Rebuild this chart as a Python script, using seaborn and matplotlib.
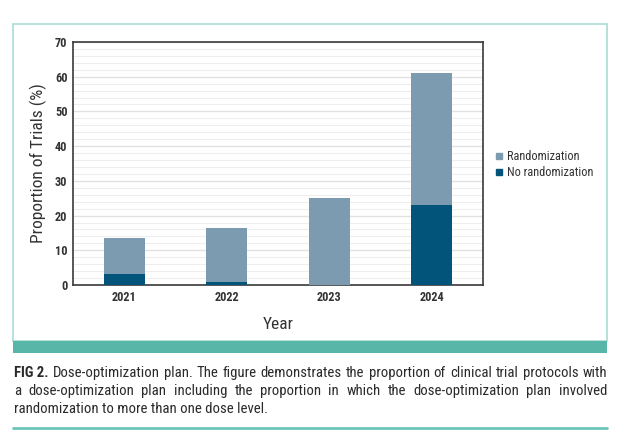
import numpy as np
import pandas as pd
import matplotlib
matplotlib.use("Agg")
import matplotlib.pyplot as plt
import seaborn as sns
from matplotlib import font_manager
from matplotlib.patches import Rectangle
from matplotlib.lines import Line2D

# données
annees = ["2021", "2022", "2023", "2024"]
total = [13.4, 16.3, 25.0, 61.1]
sans_random = [3.2, 0.9, 0.0, 23.0]
series = ["Randomization", "No randomization"]

col_clair = "#7c9bb0"
col_fonce = "#02547a"

# police étroite si dispo
noms = {f.name for f in font_manager.fontManager.ttflist}
police = "DejaVu Sans"
for p in ["Roboto Condensed", "Liberation Sans Narrow", "Roboto"]:
    if p in noms:
        police = p
        break

sns.set_theme(style="white")
plt.rcParams["font.family"] = [police, "DejaVu Sans"]

W, H = 628, 438
fig = plt.figure(figsize=(W / 100, H / 100), dpi=100)

# cadre, bande et ligne du bas
fig.patches.append(Rectangle((13 / W, 1 - 341 / H), 594 / W, 317 / H, transform=fig.transFigure,
                             fill=False, edgecolor="#a9ddd5", linewidth=1.2))
fig.patches.append(Rectangle((13 / W, 1 - 353 / H), 594 / W, 12 / H, transform=fig.transFigure,
                             facecolor="#58b6a9", edgecolor="none"))
fig.lines.append(Line2D([13 / W, 607 / W], [1 - 428 / H, 1 - 428 / H], transform=fig.transFigure,
                        color="#6cc5b9", linewidth=2))

ax = fig.add_axes([73 / W, 1 - 285 / H, 410 / W, 243 / H])

df = pd.DataFrame({"annee": annees, "total": total, "sans": sans_random})
sns.barplot(data=df, x="annee", y="total", color=col_clair, width=0.4, saturation=1, ax=ax,
            linewidth=0, zorder=3)
sns.barplot(data=df, x="annee", y="sans", color=col_fonce, width=0.4, saturation=1, ax=ax,
            linewidth=0, zorder=3)

ax.set_xlim(-0.5, 3.5)
ax.set_ylim(0, 70)
ax.set_yticks(np.arange(0, 71, 10))
ax.set_yticks(np.arange(0, 71, 2), minor=True)
ax.grid(axis="y", which="major", color="#e2e2e2", linewidth=1.0, zorder=0)
ax.grid(axis="y", which="minor", color="#eeeeee", linewidth=0.8, zorder=0)
ax.set_axisbelow(True)
for s in ax.spines.values():
    s.set_visible(True)
    s.set_color("#3a3a3a")
    s.set_linewidth(1.2)
ax.tick_params(axis="both", which="both", length=0, labelsize=8.8, colors="#333333", pad=4)
for t in ax.get_xticklabels() + ax.get_yticklabels():
    t.set_fontweight("bold")
ax.set_xlabel("Year", fontsize=12.5, color="#333333", labelpad=10)
ax.set_ylabel("Proportion of Trials (%)", fontsize=12.5, color="#333333", labelpad=6)

# légende
poignees = [Line2D([], [], marker="s", linestyle="", markersize=4, color=col_clair),
            Line2D([], [], marker="s", linestyle="", markersize=4, color=col_fonce)]
fig.legend(poignees, series, loc="upper left", bbox_to_anchor=(481 / W, 1 - 139 / H), frameon=False,
           fontsize=8.8, handletextpad=0.05, handlelength=1.2, labelspacing=0.25, labelcolor="#333333")

# légende de la figure, justifiée
lignes = [
    ["FIG 2.", "Dose-optimization", "plan.", "The", "figure", "demonstrates", "the", "proportion", "of",
     "clinical", "trial", "protocols", "with"],
    ["a", "dose-optimization", "plan", "including", "the", "proportion", "in", "which", "the",
     "dose-optimization", "plan", "involved"],
]
rend = fig.canvas.get_renderer()
for ligne, y in zip(lignes, [373, 391]):
    txts = []
    for i, mot in enumerate(ligne):
        txts.append(fig.text(0, 1 - y / H, mot, fontsize=10.6, color="#2a2a2a", va="center",
                             fontweight="bold" if mot == "FIG 2." else "normal"))
    larg = [t.get_window_extent(rend).width for t in txts]
    gap = (593 - sum(larg)) / (len(ligne) - 1)
    x = 14
    for t, w in zip(txts, larg):
        t.set_x(x / W)
        x += w + gap
fig.text(14 / W, 1 - 409 / H, "randomization to more than one dose level.", fontsize=10.6,
         color="#2a2a2a", va="center")

fig.savefig("out.png", dpi=100)
